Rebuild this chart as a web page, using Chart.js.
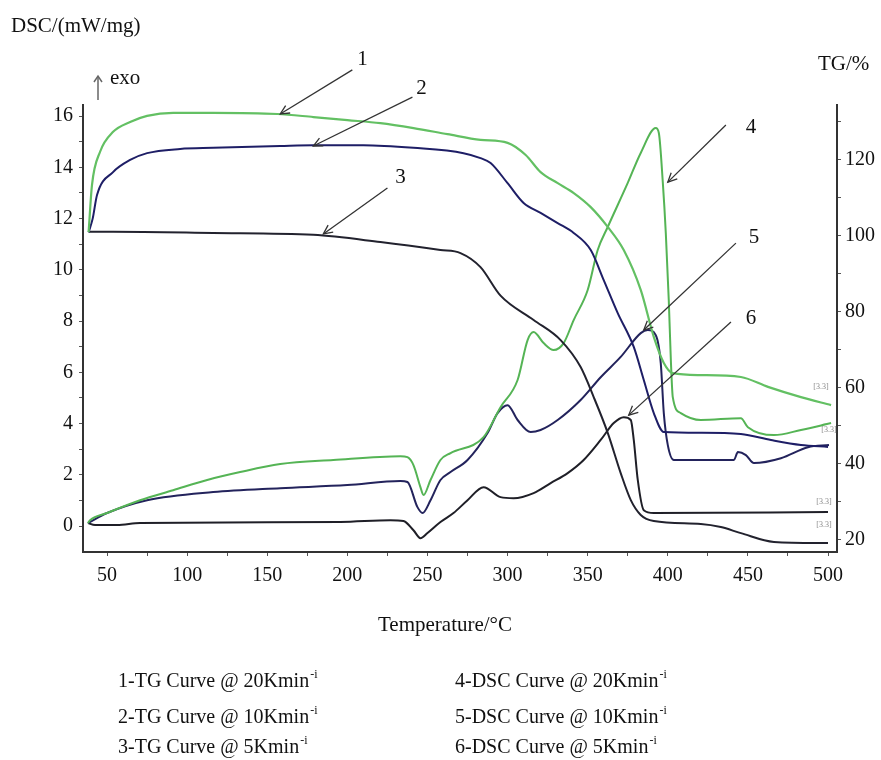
<!DOCTYPE html>
<html><head><meta charset="utf-8">
<script src="https://cdn.jsdelivr.net/npm/chart.js@4.4.1/dist/chart.umd.min.js"></script>
<style>html,body{margin:0;padding:0;background:#fff}#wrap{width:881px;height:760px;position:relative}</style>
</head><body><div id="wrap"><canvas id="c"></canvas></div>
<script>
// ---- data (temperature in °C, TG in %, DSC in mW/mg) ----
const tg1T = [38.5, 40.6, 45.6, 53.8, 64.4, 75, 91.3, 116.3, 156.3, 178.8, 200, 220.6, 241.3, 262.5, 283.1, 300, 311.3, 320.6, 331.3, 341.3, 351.9, 362.5, 372.5, 383.1, 391.3, 397.5, 403.1, 420.6, 445.6, 462.5, 483.1, 501.9];
const tg1V = [101, 113.4, 122.1, 127.4, 130.0, 131.6, 132.4, 132.4, 132.1, 131.3, 130.5, 129.7, 128.4, 126.8, 125.3, 124.5, 121.3, 116.8, 113.9, 111.3, 107.6, 102.4, 96.3, 85.8, 73.4, 66.6, 63.9, 63.4, 62.9, 60.3, 57.6, 55.5];
const tg2T = [38.5, 41, 43.75, 53.75, 64.4, 75, 95.6, 116.25, 158.1, 178.75, 210, 241.25, 272.5, 283.1, 289.4, 300, 310, 320.6, 331.25, 341.25, 351.9, 360, 368.75, 378.75, 385, 391.25, 397.5, 420.6, 445.6, 464.4, 483.1, 500];
const tg2V = [101, 104.5, 110.8, 116.8, 120, 121.8, 122.9, 123.2, 123.7, 123.9, 123.9, 123.2, 121.8, 120.5, 119.2, 113.9, 108.7, 106.1, 103.4, 100.8, 96.3, 88.4, 79.7, 70.8, 62.1, 53.4, 48.4, 48.2, 47.9, 46.3, 45, 44.5];
const tg3T = [38.5, 53.75, 116.25, 178.75, 220.6, 258.1, 270.6, 283.1, 295.6, 316.25, 333.1, 345.6, 353.75, 362.5, 370.6, 376.9, 383.1, 391.25, 420.6, 433.1, 445.6, 466.25, 500];
const tg3V = [101.1, 101.1, 100.8, 100.3, 98.4, 96.3, 95.5, 91.8, 84.3, 77.9, 72.6, 65.5, 57.6, 48.2, 37.6, 30.5, 26.6, 25, 24.2, 23.4, 21.8, 19.5, 19.2];
const dsc4T = [38.1, 39.4, 50, 70.6, 91.25, 112.5, 133.1, 158.1, 191.25, 233.1, 237.5, 241.25, 245.6, 247.5, 251.9, 258.1, 264.4, 285, 295.6, 306.25, 312.5, 316.25, 322.5, 328.75, 335, 341.25, 350, 356.25, 362.5, 375, 383.1, 392.5, 394.4, 396.9, 398.75, 400.6, 401.9, 403.1, 408.1, 420.6, 445.6, 450, 466.25, 483.1, 501.9];
const dsc4V = [0.12, 0.23, 0.51, 1.01, 1.40, 1.80, 2.11, 2.42, 2.58, 2.73, 2.69, 2.38, 1.52, 1.21, 1.80, 2.58, 2.85, 3.47, 4.64, 5.70, 7.26, 7.57, 7.14, 6.87, 7.14, 8.04, 9.21, 10.77, 11.67, 13.39, 14.56, 15.53, 15.34, 13.39, 11.43, 8.82, 6.48, 5.03, 4.41, 4.14, 4.21, 3.86, 3.55, 3.75, 4.02];
const dsc5T = [38.1, 50, 75, 116.25, 158.1, 200, 233.1, 237.5, 243.75, 246.9, 251.9, 258.1, 264.4, 275, 287.5, 293.75, 300, 306.25, 314.4, 320.6, 331.25, 345.6, 358.1, 370.6, 383.1, 387.5, 392.5, 395.6, 397.5, 400, 403.75, 441.25, 443.75, 448.75, 453.75, 470.6, 487.5, 500.6];
const dsc5V = [0.12, 0.51, 1.01, 1.33, 1.48, 1.60, 1.76, 1.72, 0.74, 0.51, 1.01, 1.80, 2.11, 2.58, 3.63, 4.41, 4.72, 4.14, 3.67, 3.75, 4.14, 4.92, 5.81, 6.60, 7.53, 7.65, 7.45, 6.36, 4.41, 3.16, 2.58, 2.58, 2.89, 2.77, 2.46, 2.65, 3.08, 3.16];
const dsc6T = [38.1, 42.5, 56.25, 70.6, 195.6, 226.9, 235, 241.25, 245.6, 250, 258.1, 266.25, 275, 285, 295.6, 303.75, 316.25, 326.9, 337.5, 347.5, 358.1, 366.25, 372.5, 376.9, 378.75, 381.25, 385, 391.25, 500];
const dsc6V = [0.12, 0.04, 0.04, 0.12, 0.16, 0.23, 0.20, -0.16, -0.47, -0.27, 0.16, 0.51, 1.01, 1.52, 1.13, 1.09, 1.29, 1.68, 2.07, 2.58, 3.36, 4.02, 4.25, 4.14, 3.36, 1.80, 0.62, 0.51, 0.55];

const xTickLabels = [50, 100, 150, 200, 250, 300, 350, 400, 450, 500];
const dscTickLabels = [0, 2, 4, 6, 8, 10, 12, 14, 16];
const tgTickLabels = [20, 40, 60, 80, 100, 120];

const legendItems = [
  ['1-TG Curve @ 20Kmin', '-i'], ['2-TG Curve @ 10Kmin', '-i'], ['3-TG Curve @ 5Kmin', '-i'],
  ['4-DSC Curve @ 20Kmin', '-i'], ['5-DSC Curve @ 10Kmin', '-i'], ['6-DSC Curve @ 5Kmin', '-i']
];
// arrows: number, tail, tip, label position (temperature, DSC units)
const arrowNums = ['1', '2', '3', '4', '5', '6'];
const arrowTail = [[203.1, 17.8], [240.6, 16.74], [225, 13.19], [436.25, 15.65], [442.5, 11.04], [439.4, 7.96]];
const arrowTip  = [[158.1, 16.08], [178.75, 14.83], [185, 11.40], [400, 13.42], [385, 7.65], [375.6, 4.33]];
const arrowText = [[209.4, 18.19], [246.25, 17.09], [233.1, 13.6], [451.9, 15.57], [453.75, 11.28], [451.9, 8.12]];
const smallMarks = [[495.6, 5.42], [500.6, 3.75], [497.5, 0.94], [497.5, 0.04]];

const SERIF = '"Liberation Serif", "DejaVu Serif", "Times New Roman", serif';

function pts(T, V) { return T.map((t, i) => ({ x: t, y: V[i] })); }
function minorize(major, step, lo, hi) {
  const out = [];
  for (let i = 0; i < major.length; i++) {
    out.push({ value: major[i] });
    out.push({ value: major[i] + step });
  }
  return out.filter(t => t.value >= lo && t.value <= hi);
}

const ds = (label, T, V, color, axis, w) => ({
  label, data: pts(T, V), borderColor: color, borderWidth: w, pointRadius: 0,
  fill: false, yAxisID: axis, cubicInterpolationMode: 'monotone'
});

const textPlugin = {
  id: 'texts',
  afterDraw(chart) {
    const c = chart.ctx, xs = chart.scales.x, yl = chart.scales.yDSC;
    c.save();
    c.fillStyle = '#111';
    c.textBaseline = 'middle';
    c.font = '21px ' + SERIF;
    c.textAlign = 'left';
    c.fillText('DSC/(mW/mg)', 11, 26);
    c.fillText('TG/%', 818, 64);
    c.fillText('exo', 110, 78);
    c.textAlign = 'center';
    c.fillText('Temperature/°C', 445, 625);
    // exo arrow
    c.strokeStyle = '#666'; c.lineWidth = 1.5;
    c.beginPath(); c.moveTo(98, 100); c.lineTo(98, 77); c.stroke();
    c.beginPath(); c.moveTo(94, 82); c.lineTo(98, 76); c.lineTo(102, 82); c.stroke();
    // arrows
    c.strokeStyle = '#333'; c.lineWidth = 1.3;
    for (let i = 0; i < arrowNums.length; i++) {
      const x1 = xs.getPixelForValue(arrowTail[i][0]), y1 = yl.getPixelForValue(arrowTail[i][1]);
      const x2 = xs.getPixelForValue(arrowTip[i][0]), y2 = yl.getPixelForValue(arrowTip[i][1]);
      c.beginPath(); c.moveTo(x1, y1); c.lineTo(x2, y2); c.stroke();
      const a = Math.atan2(y2 - y1, x2 - x1);
      const L = 10;
      c.beginPath();
      c.moveTo(x2 - L * Math.cos(a - 0.45), y2 - L * Math.sin(a - 0.45));
      c.lineTo(x2, y2);
      c.lineTo(x2 - L * Math.cos(a + 0.45), y2 - L * Math.sin(a + 0.45));
      c.stroke();
      c.fillStyle = '#111';
      c.font = '21px ' + SERIF;
      c.textAlign = 'center';
      c.fillText(arrowNums[i], xs.getPixelForValue(arrowText[i][0]), yl.getPixelForValue(arrowText[i][1]));
    }
    // tiny end marks
    c.fillStyle = '#888'; c.font = '8px ' + SERIF;
    smallMarks.forEach(m => c.fillText('[3.3]', xs.getPixelForValue(m[0]), yl.getPixelForValue(m[1])));
    // legend
    c.fillStyle = '#111';
    c.textAlign = 'left';
    const rowsY = [682, 718, 748];
    const colX = [118, 455];
    legendItems.forEach((it, i) => {
      const col = Math.floor(i / 3), row = i % 3;
      const x = colX[col], y = rowsY[row];
      c.font = '20px ' + SERIF;
      c.fillText(it[0], x, y);
      const w = c.measureText(it[0]).width;
      c.font = '12px ' + SERIF;
      c.fillText(it[1], x + w + 1, y - 7);
    });
    c.restore();
  }
};

new Chart(document.getElementById('c'), {
  type: 'line',
  data: {
    datasets: [
      ds('1-TG Curve @ 20Kmin-i', tg1T, tg1V, '#63c063', 'yTG', 2.2),
      ds('2-TG Curve @ 10Kmin-i', tg2T, tg2V, '#1e1e66', 'yTG', 2),
      ds('3-TG Curve @ 5Kmin-i', tg3T, tg3V, '#22222e', 'yTG', 2),
      ds('4-DSC Curve @ 20Kmin-i', dsc4T, dsc4V, '#55b455', 'yDSC', 2),
      ds('5-DSC Curve @ 10Kmin-i', dsc5T, dsc5V, '#23235c', 'yDSC', 2),
      ds('6-DSC Curve @ 5Kmin-i', dsc6T, dsc6V, '#1f1f27', 'yDSC', 2)
    ]
  },
  options: {
    responsive: true, maintainAspectRatio: false, animation: false,
    layout: { padding: { top: 105, left: 0, right: 0, bottom: 0 } },
    plugins: { legend: { display: false }, tooltip: { enabled: false } },
    scales: {
      x: {
        type: 'linear', position: 'bottom', min: 35, max: 505.6,
        afterBuildTicks: s => { s.ticks = minorize(xTickLabels, 25, 35, 505.6); },
        afterFit: s => { s.height = 208; },
        ticks: {
          autoSkip: false, maxRotation: 0, padding: 8, color: '#111',
          font: { family: SERIF, size: 20 },
          callback: v => xTickLabels.includes(v) ? String(v) : ''
        },
        grid: { drawOnChartArea: false, drawTicks: true, tickLength: 4, color: '#555' },
        border: { display: true, color: '#333', width: 2 }
      },
      yDSC: {
        type: 'linear', position: 'left', min: -1.01, max: 16.43,
        afterBuildTicks: s => { s.ticks = minorize(dscTickLabels, 1, -1.01, 16.43); },
        afterFit: s => { s.width = 83; },
        ticks: {
          autoSkip: false, padding: 6, color: '#111',
          font: { family: SERIF, size: 20 },
          callback: v => dscTickLabels.includes(v) ? String(v) : ''
        },
        grid: { drawOnChartArea: false, drawTicks: true, tickLength: 4, color: '#555' },
        border: { display: true, color: '#333', width: 2 }
      },
      yTG: {
        type: 'linear', position: 'right', min: 16.84, max: 134.47,
        afterBuildTicks: s => { s.ticks = minorize(tgTickLabels, 10, 16.84, 134.47); },
        afterFit: s => { s.width = 44; },
        ticks: {
          autoSkip: false, padding: 4, color: '#111',
          font: { family: SERIF, size: 20 },
          callback: v => tgTickLabels.includes(v) ? String(v) : ''
        },
        grid: { drawOnChartArea: false, drawTicks: true, tickLength: 4, color: '#555' },
        border: { display: true, color: '#333', width: 2 }
      }
    }
  },
  plugins: [textPlugin]
});
</script>
</body></html>
